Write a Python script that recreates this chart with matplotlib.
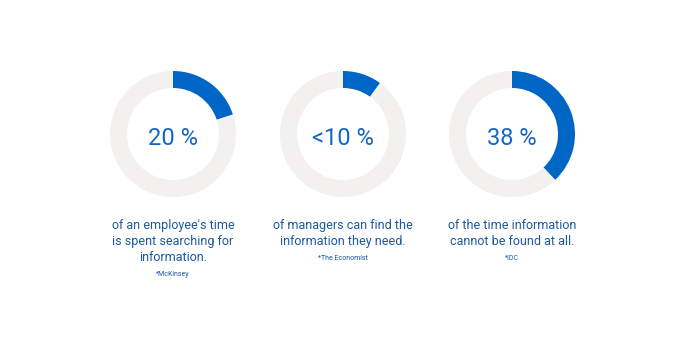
import matplotlib
matplotlib.use("Agg")
import matplotlib.pyplot as plt

# Share values shown in each ring (percent)
values = [20, 10, 38]
value_labels = ["20 %", "<10 %", "38 %"]
captions = [
    "of an employee's time\nis spent searching for\ninformation.",
    "of managers can find the\ninformation they need.",
    "of the time information\ncannot be found at all.",
]
sources = ["*McKinsey", "*The Economist", "*IDC"]

W, H = 686, 343
fig = plt.figure(figsize=(W / 100, H / 100), dpi=100)
fig.patch.set_facecolor("white")

ring_blue = "#0066c6"
ring_grey = "#f2f1f0"
text_blue = "#1b59a6"
num_blue = "#1566c6"
font = ["Roboto", "DejaVu Sans"]

centers_x = [173, 343, 512]
cy = 134
radius = 63
ring_w = 17 / radius

for cx, v, lab, cap, src in zip(centers_x, values, value_labels, captions, sources):
    ax = fig.add_axes([(cx - radius) / W, (H - cy - radius) / H,
                       2 * radius / W, 2 * radius / H])
    ax.pie([v, 100 - v], startangle=90, counterclock=False,
           colors=[ring_blue, ring_grey], radius=1.0,
           wedgeprops=dict(width=ring_w, linewidth=0))
    ax.set_xlim(-1, 1)
    ax.set_ylim(-1, 1)
    ax.set_aspect("equal")
    ax.axis("off")

    fig.text(cx / W, 1 - 136 / H, lab, ha="center", va="center_baseline",
             fontsize=17, color=num_blue, family=font, fontweight="normal")
    nlines = cap.count("\n") + 1
    for i, line in enumerate(cap.split("\n")):
        fig.text(cx / W, 1 - (225.5 + 16 * i) / H, line, ha="center",
                 va="center", fontsize=9, color=text_blue, family=font)
    src_y = 225.5 + 16 * (nlines - 1) + 16.5
    fig.text(cx / W, 1 - src_y / H, src, ha="center", va="center",
             fontsize=5, color=text_blue, family=font)

fig.savefig("out.png", dpi=100, facecolor="white")
